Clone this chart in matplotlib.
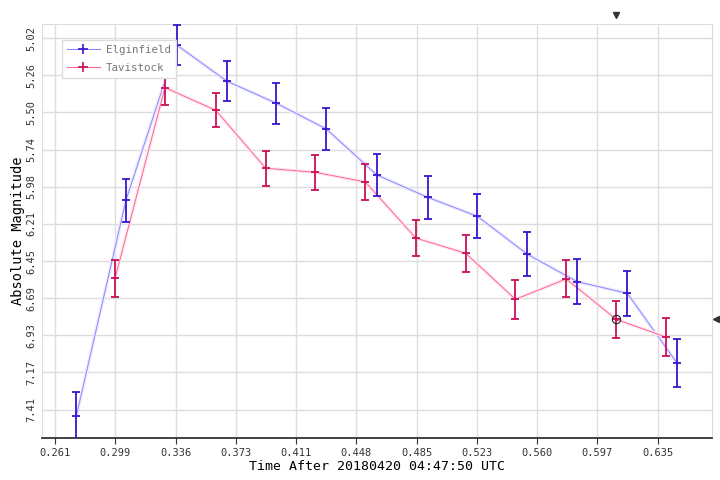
import numpy as np
import matplotlib.pyplot as plt
import matplotlib.patheffects as pe

# Elginfield
elg_t = [0.2742, 0.3050, 0.3365, 0.3675, 0.3983, 0.4293, 0.4606, 0.4922, 0.5230, 0.5540, 0.5850, 0.6160, 0.6470]
elg_m = [7.452, 6.064, 5.065, 5.297, 5.440, 5.605, 5.901, 6.045, 6.167, 6.411, 6.588, 6.662, 7.113]
elg_e = [0.152, 0.137, 0.130, 0.131, 0.131, 0.135, 0.137, 0.140, 0.142, 0.142, 0.145, 0.145, 0.154]

# Tavistock
tav_t = [0.2982, 0.3292, 0.3607, 0.3917, 0.4225, 0.4535, 0.4848, 0.5158, 0.5466, 0.5781, 0.6092, 0.6403]
tav_m = [6.566, 5.339, 5.485, 5.858, 5.884, 5.946, 6.307, 6.405, 6.701, 6.570, 6.830, 6.945]
tav_e = [0.118, 0.110, 0.110, 0.113, 0.114, 0.114, 0.115, 0.119, 0.124, 0.119, 0.121, 0.121]

xticks = 0.261 + np.arange(11) * 0.03738
xlabels = ['0.261', '0.299', '0.336', '0.373', '0.411', '0.448', '0.485', '0.523', '0.560', '0.597', '0.635']
yticks = 5.0205 + np.arange(11) * 0.239
ylabels = ['5.02', '5.26', '5.50', '5.74', '5.98', '6.21', '6.45', '6.69', '6.93', '7.17', '7.41']

plt.rcParams['font.family'] = 'DejaVu Sans Mono'

fig = plt.figure(figsize=(7.2, 4.8), dpi=100)
ax = fig.add_axes([0.0583, 0.0875, 0.9307, 0.8625])

halo = [pe.Stroke(linewidth=2.5, foreground='#eeeaff'), pe.Normal()]
halo2 = [pe.Stroke(linewidth=2.5, foreground='#ffe8f1'), pe.Normal()]

ax.plot(elg_t, elg_m, color='#8888ff', lw=0.7, path_effects=halo, zorder=3)
ax.errorbar(elg_t, elg_m, yerr=elg_e, fmt='none', ecolor='#3a14d0', elinewidth=1.3,
            capsize=3, capthick=1.3, zorder=4)
ax.plot(tav_t, tav_m, color='#ff6690', lw=0.7, path_effects=halo2, zorder=3)
ax.errorbar(tav_t, tav_m, yerr=tav_e, fmt='none', ecolor='#c8105a', elinewidth=1.3,
            capsize=3, capthick=1.3, zorder=4)
ax.plot(elg_t, elg_m, ls='none', marker='_', ms=6, mew=1.3, color='#3a14d0', zorder=5)
ax.plot(tav_t, tav_m, ls='none', marker='_', ms=6, mew=1.3, color='#c8105a', zorder=5)

# hover marker
ax.plot(tav_t[10], tav_m[10], marker='o', ms=6, mfc='none', mec='#222222', mew=0.8, zorder=6)
ax.plot(tav_t[10], tav_m[10], marker='.', ms=3, color='#c8105a', zorder=7)
ax.plot(tav_t[10], 4.87, marker='v', ms=5, color='#333333', clip_on=False)
ax.plot(0.671, tav_m[10], marker='<', ms=5, color='#333333', clip_on=False)

ax.set_xlim(0.2529, 0.6686)
ax.set_ylim(7.593, 4.930)
ax.set_xticks(xticks)
ax.set_xticklabels(xlabels, fontsize=7.5, color='#333333')
ax.set_yticks(yticks)
ax.set_yticklabels(ylabels, fontsize=7.5, color='#333333', rotation=90, va='center')
ax.tick_params(axis='x', length=4, color='#333333', pad=3)
ax.tick_params(axis='y', length=0, pad=4)
ax.grid(True, color='#dddddd', lw=1)
ax.set_axisbelow(True)
for s in ['top', 'right', 'left']:
    ax.spines[s].set_color('#dddddd')
ax.spines['bottom'].set_color('#222222')
ax.spines['bottom'].set_linewidth(1.2)

ax.set_xlabel('Time After 20180420 04:47:50 UTC', fontsize=9.5, labelpad=2)
ax.set_ylabel('Absolute Magnitude', fontsize=9.8, labelpad=1)

h1, = ax.plot([], [], color='#8888ff', lw=0.8, marker='+', ms=7, mec='#3a14d0', mew=1.2)
h2, = ax.plot([], [], color='#ff6690', lw=0.8, marker='+', ms=7, mec='#c8105a', mew=1.2)
leg = ax.legend([h1, h2], ['Elginfield', 'Tavistock'], loc='upper left',
                bbox_to_anchor=(0.022, 0.975), fontsize=7.8, frameon=True, fancybox=False,
                edgecolor='#dddddd', framealpha=1, handlelength=3, borderpad=0.45,
                labelspacing=0.75, handletextpad=0.6)
for t in leg.get_texts():
    t.set_color('#777777')

fig.savefig('out.png', dpi=100)
